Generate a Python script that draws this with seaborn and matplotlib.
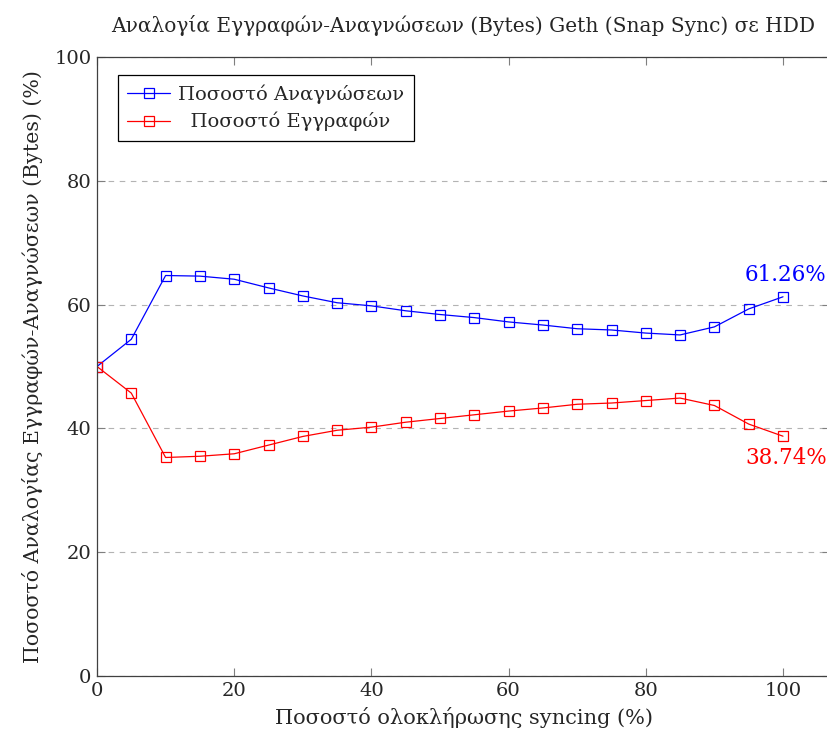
import matplotlib
matplotlib.use("Agg")
import matplotlib.pyplot as plt
import seaborn as sns
import pandas as pd

progress = [0, 5, 10, 15, 20, 25, 30, 35, 40, 45, 50, 55, 60, 65, 70, 75, 80, 85, 90, 95, 100]
read_pct = [50.0, 54.4, 64.7, 64.6, 64.1, 62.7, 61.4, 60.3, 59.8, 59.0, 58.4, 57.9, 57.2, 56.7,
            56.1, 55.9, 55.4, 55.1, 56.4, 59.3, 61.26]
write_pct = [50.0, 45.7, 35.3, 35.5, 35.9, 37.3, 38.7, 39.7, 40.2, 41.0, 41.6, 42.2, 42.8, 43.3,
             43.9, 44.1, 44.5, 44.9, 43.7, 40.7, 38.74]
series_names = ["Ποσοστό Αναγνώσεων", "Ποσοστό Εγγραφών"]
title = "Αναλογία Εγγραφών-Αναγνώσεων (Bytes) Geth (Snap Sync) σε HDD"
xlabel = "Ποσοστό ολοκλήρωσης syncing (%)"
ylabel = "Ποσοστό Αναλογίας Εγγραφών-Αναγνώσεων (Bytes) (%)"
ticks = [0, 20, 40, 60, 80, 100]

sns.set_theme(style="ticks")
plt.rcParams["font.family"] = ["DejaVu Serif"]
plt.rcParams["mathtext.fontset"] = "dejavuserif"

df = pd.DataFrame({"x": progress, "read": read_pct, "write": write_pct})

fig = plt.figure(figsize=(8.27, 7.36), dpi=100)
ax = fig.add_axes([97 / 827, 60 / 736, (830 - 97) / 827, (676 - 57) / 736])

colors = ["#0000ff", "#ff0000"]
for col, name, c in zip(["read", "write"], series_names, colors):
    sns.lineplot(data=df, x="x", y=col, ax=ax, color=c, marker="s", markersize=7,
                 markerfacecolor="none", markeredgecolor=c, markeredgewidth=0.9,
                 linewidth=0.9, label=name)

ax.set_xlim(0, (830 - 97) / 6.86)
ax.set_ylim(0, 100)
ax.set_xticks(ticks)
ax.set_yticks(ticks)
ax.yaxis.grid(True, linestyle=(0, (5, 5)), color="#b3b3b3", linewidth=0.8)
ax.xaxis.grid(False)
ax.tick_params(axis="both", which="major", direction="in", length=6, width=0.8,
               color="#7f7f7f", labelsize=14, bottom=True, left=True, top=True, right=True,
               pad=4)
for s in ax.spines.values():
    s.set_visible(True)
    s.set_color("#404040")
    s.set_linewidth(0.9)

ax.set_title(title, fontsize=14.5, pad=18)
ax.set_xlabel(xlabel, fontsize=15, labelpad=5)
ax.set_ylabel(ylabel, fontsize=14.8, labelpad=8)

ax.annotate(f"{read_pct[-1]:.2f}%", (progress[-1], read_pct[-1]), xytext=(2, 8),
            textcoords="offset points", ha="center", va="bottom", color=colors[0], fontsize=15.5)
ax.annotate(f"{write_pct[-1]:.2f}%", (progress[-1], write_pct[-1]), xytext=(2, -8),
            textcoords="offset points", ha="center", va="top", color=colors[1], fontsize=15.5)

handles, labels = ax.get_legend_handles_labels()
labels = [labels[0], "  " + labels[1]]
leg = ax.legend(handles, labels, loc="upper left", bbox_to_anchor=(0.028, 0.971), fontsize=14,
                frameon=True, fancybox=False, edgecolor="black", framealpha=1,
                handlelength=2.2, handletextpad=0.4, borderpad=0.5, labelspacing=0.4,
                borderaxespad=0)
leg.get_frame().set_linewidth(0.9)

fig.savefig("out.png", dpi=100)
